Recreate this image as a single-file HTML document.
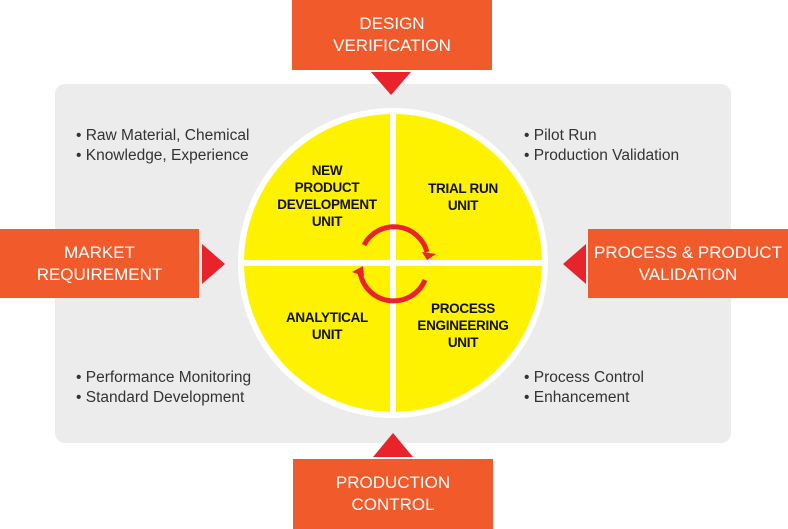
<!DOCTYPE html>
<html><head><style>
body{margin:0;width:788px;height:529px;background:#fff;position:relative;overflow:hidden;font-family:"Liberation Sans",sans-serif}
.gray{position:absolute;left:55px;top:84px;width:676px;height:359px;background:#ececec;border-radius:10px}
.box{position:absolute;background:#f15a2b;color:#fff;font-size:17px;line-height:22px;text-align:center;display:flex;align-items:center;justify-content:center}
.bl{position:absolute;font-size:15.5px;line-height:19.5px;color:#333}
.lab{position:absolute;font-size:13.5px;font-weight:bold;line-height:17px;text-align:center;color:#111;letter-spacing:-0.3px}
</style></head><body>
<div class="gray"></div>
<div class="box" style="left:292px;top:0;width:200px;height:70px">DESIGN<br>VERIFICATION</div>
<div class="box" style="left:0;top:229px;width:199px;height:69px">MARKET<br>REQUIREMENT</div>
<div class="box" style="left:588px;top:229px;width:200px;height:69px">PROCESS &amp; PRODUCT<br>VALIDATION</div>
<div class="box" style="left:293px;top:459px;width:200px;height:70px">PRODUCTION<br>CONTROL</div>
<svg width="788" height="529" style="position:absolute;left:0;top:0">
<polygon points="371,72 411,72 391,95" fill="#e8232b"/>
<polygon points="202,244 225,264 202,284" fill="#e8232b"/>
<polygon points="586,244 563,264 586,284" fill="#e8232b"/>
<polygon points="373,457 413,457 393,433" fill="#e8232b"/>
<circle cx="393" cy="263" r="155" fill="#fff"/>
<circle cx="393" cy="263" r="149" fill="#fff200"/>
<rect x="390" y="108" width="6" height="310" fill="#fff"/>
<rect x="238" y="260" width="310" height="6" fill="#fff"/>
<path d="M364,245 A34,34 0 0 1 427,252" fill="none" stroke="#e8232b" stroke-width="5"/>
<polygon points="422,252 436,254 427,260" fill="#e8232b"/>
<path d="M425,280 A34,34 0 0 1 360,272" fill="none" stroke="#e8232b" stroke-width="5"/>
<polygon points="352,272 363,266 364,276" fill="#e8232b"/>
</svg>
<div class="lab" style="left:267px;top:162px;width:120px">NEW<br>PRODUCT<br>DEVELOPMENT<br>UNIT</div>
<div class="lab" style="left:408px;top:180px;width:110px">TRIAL RUN<br>UNIT</div>
<div class="lab" style="left:267px;top:309px;width:120px">ANALYTICAL<br>UNIT</div>
<div class="lab" style="left:403px;top:300px;width:120px">PROCESS<br>ENGINEERING<br>UNIT</div>
<div class="bl" style="left:76px;top:126px">• Raw Material, Chemical<br>• Knowledge, Experience</div>
<div class="bl" style="left:524px;top:126px">• Pilot Run<br>• Production Validation</div>
<div class="bl" style="left:76px;top:368px">• Performance Monitoring<br>• Standard Development</div>
<div class="bl" style="left:524px;top:368px">• Process Control<br>• Enhancement</div>
</body></html>
